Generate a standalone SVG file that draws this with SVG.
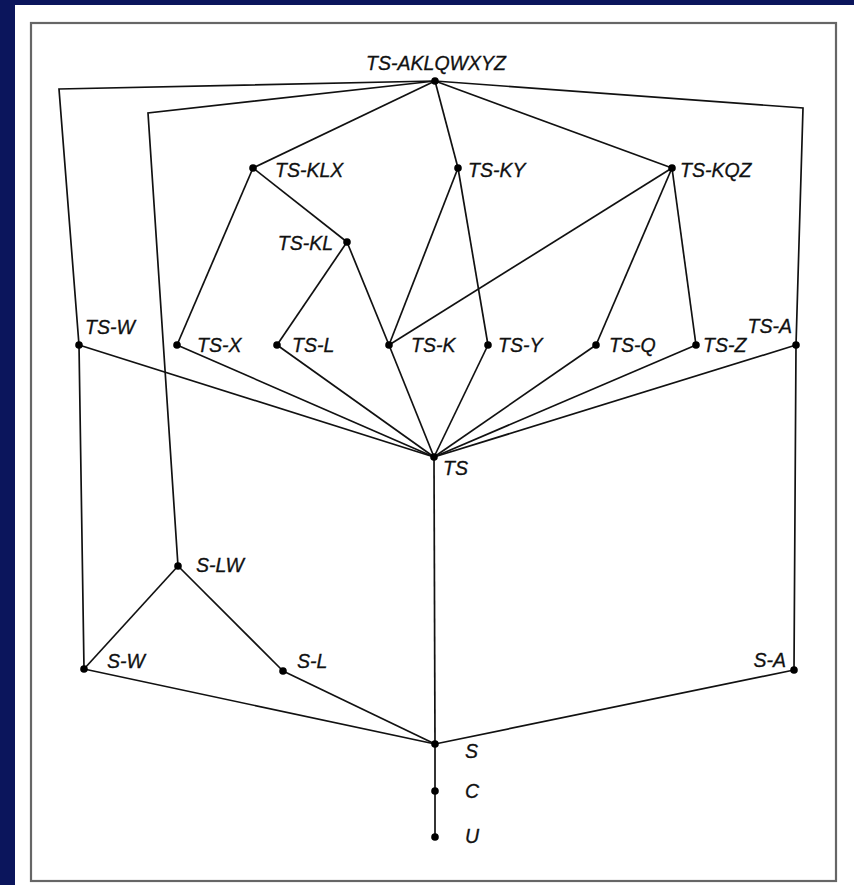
<svg xmlns="http://www.w3.org/2000/svg" width="854" height="885" viewBox="0 0 854 885">
<style>
.e{fill:none;stroke:#111;stroke-width:1.7;stroke-linejoin:miter}
.d{fill:#000}
.t{font-family:"Liberation Sans",Arial,sans-serif;font-style:italic;font-size:19.5px;fill:#111;stroke:#111;stroke-width:0.3}
</style>
<rect x="0" y="0" width="854" height="885" fill="#0b155c"/>
<rect x="15" y="5" width="839" height="880" fill="#fff"/>
<rect x="31" y="23" width="805" height="858" fill="none" stroke="#666" stroke-width="2.2"/>
<g id="connectors">
<polyline class="e" points="435,81 59,89 79,345 84,669"/>
<polyline class="e" points="435,81 148,113 178,566"/>
<polyline class="e" points="435,81 803,108 796,345 794,670"/>
<line class="e" x1="435" y1="81" x2="253" y2="168"/>
<line class="e" x1="435" y1="81" x2="458" y2="168"/>
<line class="e" x1="435" y1="81" x2="672" y2="168"/>
<line class="e" x1="253" y1="168" x2="177" y2="345"/>
<line class="e" x1="253" y1="168" x2="347" y2="242"/>
<line class="e" x1="347" y1="242" x2="277" y2="345"/>
<line class="e" x1="347" y1="242" x2="389" y2="345"/>
<line class="e" x1="458" y1="168" x2="389" y2="345"/>
<line class="e" x1="458" y1="168" x2="488" y2="345"/>
<line class="e" x1="672" y1="168" x2="389" y2="345"/>
<line class="e" x1="672" y1="168" x2="596" y2="345"/>
<line class="e" x1="672" y1="168" x2="696" y2="345"/>
<line class="e" x1="79" y1="345" x2="434" y2="457"/>
<line class="e" x1="177" y1="345" x2="434" y2="457"/>
<line class="e" x1="277" y1="345" x2="434" y2="457"/>
<line class="e" x1="389" y1="345" x2="434" y2="457"/>
<line class="e" x1="488" y1="345" x2="434" y2="457"/>
<line class="e" x1="596" y1="345" x2="434" y2="457"/>
<line class="e" x1="696" y1="345" x2="434" y2="457"/>
<line class="e" x1="796" y1="345" x2="434" y2="457"/>
<line class="e" x1="434" y1="457" x2="435" y2="744"/>
<line class="e" x1="178" y1="566" x2="84" y2="669"/>
<line class="e" x1="178" y1="566" x2="283" y2="671"/>
<line class="e" x1="84" y1="669" x2="435" y2="744"/>
<line class="e" x1="283" y1="671" x2="435" y2="744"/>
<line class="e" x1="794" y1="670" x2="435" y2="744"/>
<line class="e" x1="435" y1="744" x2="435" y2="837"/>
</g>
<g id="n-TS-AKLQWXYZ"><circle class="d" cx="435" cy="81" r="3.8"/><text class="t" x="436" y="70" text-anchor="middle">TS-AKLQWXYZ</text></g>
<g id="n-TS-KLX"><circle class="d" cx="253" cy="168" r="3.8"/><text class="t" x="275" y="177">TS-KLX</text></g>
<g id="n-TS-KY"><circle class="d" cx="458" cy="168" r="3.8"/><text class="t" x="468" y="177">TS-KY</text></g>
<g id="n-TS-KQZ"><circle class="d" cx="672" cy="168" r="3.8"/><text class="t" x="680" y="177">TS-KQZ</text></g>
<g id="n-TS-KL"><circle class="d" cx="347" cy="242" r="3.8"/><text class="t" x="333" y="250" text-anchor="end">TS-KL</text></g>
<g id="n-TS-W"><circle class="d" cx="79" cy="345" r="3.8"/><text class="t" x="85" y="334">TS-W</text></g>
<g id="n-TS-X"><circle class="d" cx="177" cy="345" r="3.8"/><text class="t" x="197" y="352">TS-X</text></g>
<g id="n-TS-L"><circle class="d" cx="277" cy="345" r="3.8"/><text class="t" x="292" y="352">TS-L</text></g>
<g id="n-TS-K"><circle class="d" cx="389" cy="345" r="3.8"/><text class="t" x="411" y="352">TS-K</text></g>
<g id="n-TS-Y"><circle class="d" cx="488" cy="345" r="3.8"/><text class="t" x="498" y="352">TS-Y</text></g>
<g id="n-TS-Q"><circle class="d" cx="596" cy="345" r="3.8"/><text class="t" x="609" y="352">TS-Q</text></g>
<g id="n-TS-Z"><circle class="d" cx="696" cy="345" r="3.8"/><text class="t" x="703" y="352">TS-Z</text></g>
<g id="n-TS-A"><circle class="d" cx="796" cy="345" r="3.8"/><text class="t" x="792" y="333" text-anchor="end">TS-A</text></g>
<g id="n-TS"><circle class="d" cx="434" cy="457" r="3.8"/><text class="t" x="443" y="475">TS</text></g>
<g id="n-S-LW"><circle class="d" cx="178" cy="566" r="3.8"/><text class="t" x="196" y="572">S-LW</text></g>
<g id="n-S-W"><circle class="d" cx="84" cy="669" r="3.8"/><text class="t" x="107" y="668">S-W</text></g>
<g id="n-S-L"><circle class="d" cx="283" cy="671" r="3.8"/><text class="t" x="297" y="668">S-L</text></g>
<g id="n-S-A"><circle class="d" cx="794" cy="670" r="3.8"/><text class="t" x="786" y="667" text-anchor="end">S-A</text></g>
<g id="n-S"><circle class="d" cx="435" cy="744" r="3.8"/><text class="t" x="465" y="758">S</text></g>
<g id="n-C"><circle class="d" cx="435" cy="791" r="3.8"/><text class="t" x="465" y="798">C</text></g>
<g id="n-U"><circle class="d" cx="435" cy="837" r="3.8"/><text class="t" x="465" y="843">U</text></g>
</svg>
